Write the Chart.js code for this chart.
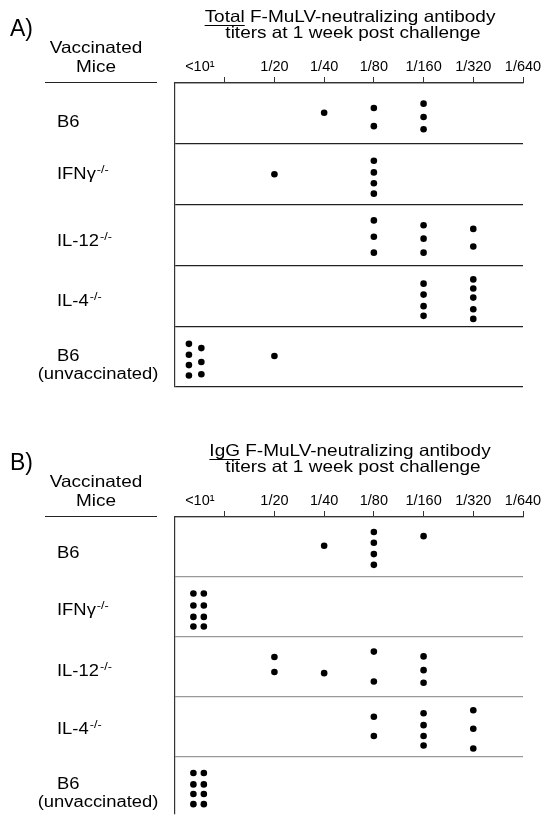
<!DOCTYPE html>
<html>
<head>
<meta charset="utf-8">
<script src="https://cdn.jsdelivr.net/npm/chart.js@4/dist/chart.umd.min.js"></script>
<style>
  body { margin: 0; background: #fff; }
  .panel { position: absolute; left: 0; }
</style>
</head>
<body>
<div class="panel" style="top:0"><canvas id="chartA" width="543" height="434"></canvas></div>
<div class="panel" style="top:434px"><canvas id="chartB" width="543" height="383"></canvas></div>
<script>
// titer axis: 0..1 is the "<10" band, then one unit per twofold dilution
var tickValues = [0, 0.5, 1, 2, 3, 4, 5, 6, 7];
var tickLabels = ['', '<10¹', '', '1/20', '1/40', '1/80', '1/160', '1/320', '1/640'];

var strains = ['B6', 'IFNγ', 'IL-12', 'IL-4', 'B6'];
var strainSup = ['', '-/-', '-/-', '-/-', ''];
var strainNote = ['', '', '', '', '(unvaccinated)'];

// each mouse: [strain row, titer position on axis, height inside its row (0 top .. 1 bottom)]
var totalDots = [
  [0, 3, 0.49], [0, 4, 0.41], [0, 4, 0.71], [0, 5, 0.34], [0, 5, 0.56], [0, 5, 0.76],
  [1, 2, 0.50], [1, 4, 0.28], [1, 4, 0.47], [1, 4, 0.65], [1, 4, 0.82],
  [2, 4, 0.26], [2, 4, 0.53], [2, 4, 0.79], [2, 5, 0.34], [2, 5, 0.56], [2, 5, 0.79], [2, 6, 0.40], [2, 6, 0.69],
  [3, 5, 0.30], [3, 5, 0.48], [3, 5, 0.67], [3, 5, 0.83],
  [3, 6, 0.23], [3, 6, 0.38], [3, 6, 0.53], [3, 6, 0.72], [3, 6, 0.88],
  [4, 0.28, 0.29], [4, 0.28, 0.47], [4, 0.28, 0.64], [4, 0.28, 0.81],
  [4, 0.53, 0.36], [4, 0.53, 0.59], [4, 0.53, 0.79], [4, 2, 0.49]
];

var iggDots = [
  [0, 3, 0.48], [0, 4, 0.25], [0, 4, 0.43], [0, 4, 0.62], [0, 4, 0.80], [0, 5, 0.32],
  [1, 0.37, 0.28], [1, 0.37, 0.48], [1, 0.37, 0.67], [1, 0.37, 0.83],
  [1, 0.58, 0.28], [1, 0.58, 0.48], [1, 0.58, 0.67], [1, 0.58, 0.83],
  [2, 2, 0.34], [2, 2, 0.59], [2, 3, 0.61], [2, 4, 0.25], [2, 4, 0.75], [2, 5, 0.33], [2, 5, 0.56], [2, 5, 0.77],
  [3, 4, 0.34], [3, 4, 0.66], [3, 5, 0.28], [3, 5, 0.48], [3, 5, 0.66], [3, 5, 0.82],
  [3, 6, 0.23], [3, 6, 0.54], [3, 6, 0.87],
  [4, 0.37, 0.28], [4, 0.37, 0.47], [4, 0.37, 0.63], [4, 0.37, 0.80],
  [4, 0.58, 0.28], [4, 0.58, 0.47], [4, 0.58, 0.63], [4, 0.58, 0.80]
];

var FONT = '"Liberation Sans", Arial, Helvetica, sans-serif';

// text with a little horizontal stretch, like the scanned figure
function drawText(ctx, str, x, y, size, align, sx) {
  ctx.save();
  ctx.font = size + 'px ' + FONT;
  ctx.fillStyle = '#000';
  ctx.textBaseline = 'alphabetic';
  ctx.textAlign = 'left';
  var w = ctx.measureText(str).width * sx;
  var left = align === 'center' ? x - w / 2 : (align === 'right' ? x - w : x);
  ctx.translate(left, y);
  ctx.scale(sx, 1);
  ctx.fillText(str, 0, 0);
  ctx.restore();
  return w;
}

function textWidth(ctx, str, size, sx) {
  ctx.save();
  ctx.font = size + 'px ' + FONT;
  var w = ctx.measureText(str).width * sx;
  ctx.restore();
  return w;
}

var headerPlugin = {
  id: 'header',
  afterDraw: function (chart) {
    var o = chart.options.plugins.header;
    var ctx = chart.ctx;
    var sx = 1.15;

    drawText(ctx, o.letter, 10, 36, 23, 'left', 1);

    // title, first word underlined
    var w1 = textWidth(ctx, o.word, 16.5, sx);
    var w2 = textWidth(ctx, ' F-MuLV-neutralizing antibody', 16.5, sx);
    var start = 350 - (w1 + w2) / 2;
    drawText(ctx, o.word, start, 22, 16.5, 'left', sx);
    drawText(ctx, ' F-MuLV-neutralizing antibody', start + w1, 22, 16.5, 'left', sx);
    ctx.save();
    ctx.strokeStyle = '#000';
    ctx.lineWidth = 1;
    ctx.beginPath();
    ctx.moveTo(start, 25.5);
    ctx.lineTo(start + w1, 25.5);
    ctx.stroke();
    ctx.restore();
    drawText(ctx, 'titers at 1 week post challenge', 353, 38, 16.5, 'center', sx);

    drawText(ctx, 'Vaccinated', 96, 53, 16.5, 'center', sx);
    drawText(ctx, 'Mice', 96, 72, 16.5, 'center', sx);
    ctx.save();
    ctx.strokeStyle = '#222';
    ctx.lineWidth = 1.2;
    ctx.beginPath();
    ctx.moveTo(45, 82.5);
    ctx.lineTo(157, 82.5);
    ctx.stroke();
    ctx.restore();

    // row labels
    var ys = chart.scales.y;
    for (var i = 0; i < strains.length; i++) {
      var yc = ys.getPixelForValue(i + 0.5) + o.labelShift[i];
      var w = drawText(ctx, strains[i], 57, yc, 16, 'left', sx);
      if (strainSup[i]) drawText(ctx, strainSup[i], 57 + w + 1, yc - 6, 11, 'left', sx);
      if (strainNote[i]) drawText(ctx, strainNote[i], 98, yc + 18, 16, 'center', sx);
    }
  }
};

function makeChart(id, dots, letter, word, yMax, padBottom, gridColor, labelShift) {
  var points = dots.map(function (d) { return { x: d[1], y: d[0] + d[2] }; });
  return new Chart(document.getElementById(id), {
    type: 'scatter',
    data: {
      datasets: [{
        data: points,
        pointRadius: 3.3,
        pointHoverRadius: 3.3,
        pointBackgroundColor: '#000',
        pointBorderWidth: 0
      }]
    },
    plugins: [headerPlugin],
    options: {
      responsive: false,
      animation: false,
      events: [],
      layout: { padding: { left: 175, right: 20, top: 0, bottom: padBottom } },
      plugins: {
        legend: { display: false },
        tooltip: { enabled: false },
        header: { letter: letter, word: word, labelShift: labelShift }
      },
      scales: {
        x: {
          type: 'linear',
          position: 'top',
          min: 0,
          max: 7,
          afterBuildTicks: function (scale) {
            scale.ticks = tickValues.map(function (v) { return { value: v }; });
          },
          afterFit: function (scale) { scale.height = 83; },
          ticks: {
            autoSkip: false,
            maxRotation: 0,
            padding: 1,
            color: '#000',
            font: { family: FONT, size: 14.5 },
            callback: function (v, i) { return tickLabels[i]; }
          },
          grid: {
            drawOnChartArea: false,
            tickLength: 6,
            tickWidth: 1,
            tickColor: function (c) { return (c.tick && (c.tick.value === 0.5 || c.tick.value === 0)) ? 'rgba(0,0,0,0)' : '#333'; }
          },
          border: { color: '#333', width: 1.2 }
        },
        y: {
          type: 'linear',
          reverse: true,
          min: 0,
          max: yMax,
          afterBuildTicks: function (scale) {
            scale.ticks = [0, 1, 2, 3, 4, 5]
              .filter(function (v) { return v <= yMax; })
              .map(function (v) { return { value: v }; });
          },
          afterFit: function (scale) { scale.width = 0; },
          ticks: { display: false },
          grid: { color: gridColor, lineWidth: 1.2, drawTicks: false },
          border: { color: '#333', width: 1.2 }
        }
      }
    }
  });
}

makeChart('chartA', totalDots, 'A)', 'Total', 5, 47, '#222', [14, 5, 11, 10, 4]);
makeChart('chartB', iggDots, 'B)', 'IgG', 4.96, 0, '#999', [11, 8, 9, 8, 3]);
</script>
</body>
</html>
